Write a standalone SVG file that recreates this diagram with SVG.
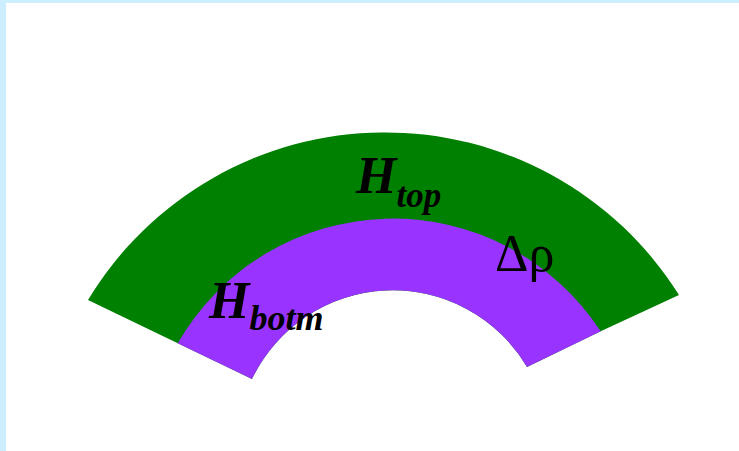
<svg xmlns="http://www.w3.org/2000/svg" width="739" height="451" viewBox="0 0 739 451">
<style>
.lbl{font-family:"Liberation Serif","Times New Roman",serif;font-weight:bold;font-style:italic;fill:#000}
.greek{font-family:"Liberation Serif","Times New Roman",serif;fill:#000}
</style>
<rect x="0" y="0" width="739" height="451" fill="#ffffff"/>
<rect x="0" y="0" width="739" height="3" fill="#cceeff"/>
<rect x="0" y="0" width="6" height="451" fill="#cceeff"/>
<g id="top-layer">
<path d="M88,300 A347,347 0 0 1 679,295 L600.7,331.3 L527,367 A156,156 0 0 0 252,379 Z" fill="#008000"/>
</g>
<g id="bottom-layer">
<path d="M177.7,343.3 A248,248 0 0 1 600.7,331.3 L527,367 A156,156 0 0 0 252,379 Z" fill="#9933ff"/>
</g>
<g id="labels">
<text class="lbl" x="356" y="193" font-size="52">H<tspan font-size="35" dy="14">top</tspan></text>
<text class="lbl" x="209" y="318" font-size="52">H<tspan font-size="36" dy="12">botm</tspan></text>
<text class="greek" x="495" y="271" font-size="52">Δρ</text>
</g>
</svg>
